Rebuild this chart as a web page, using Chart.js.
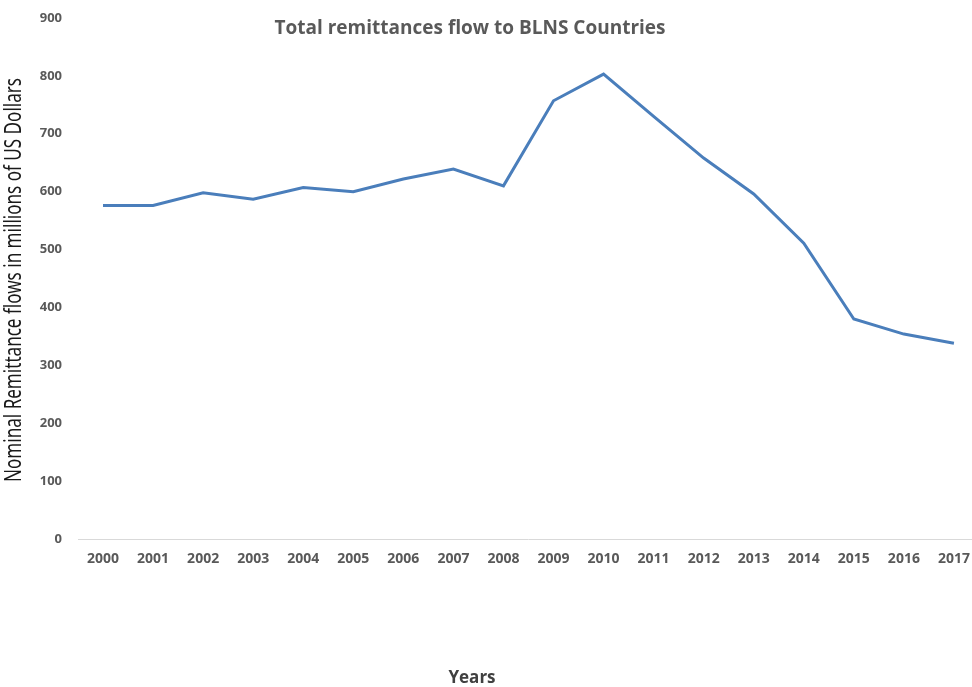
<!DOCTYPE html>
<html>
<head>
<meta charset="utf-8">
<script src="https://cdn.jsdelivr.net/npm/chart.js@4"></script>
<style>
  html, body { margin: 0; padding: 0; background: #fff; overflow: hidden; }
  #wrap { width: 982px; height: 687px; position: relative; }
</style>
</head>
<body>
<div id="wrap"><canvas id="remessasChart"></canvas></div>
<script>
// Dados
const anos = ['2000', '2001', '2002', '2003', '2004', '2005', '2006', '2007', '2008',
              '2009', '2010', '2011', '2012', '2013', '2014', '2015', '2016', '2017'];
const remessas = [576, 576, 598, 587, 607, 600, 622, 639, 610,
                  757, 803, 730, 658, 596, 511, 380, 354, 338];

const tituloGrafico = 'Total remittances flow to BLNS Countries';
const tituloEixoY = 'Nominal Remittance flows in millions of US Dollars';
const tituloEixoX = 'Years';

// Títulos desenhados à mão: o do gráfico fica por cima da área de plotagem,
// o do eixo Y é estreito (tipo Calibri) e o "Years" não fica centrado no eixo
const titulosPlugin = {
    id: 'titulosManuais',
    afterDraw(chart) {
        const ctx = chart.ctx;
        ctx.save();
        ctx.textAlign = 'center';
        ctx.textBaseline = 'middle';

        ctx.font = 'bold 19px "Open Sans"';
        ctx.fillStyle = '#595959';
        ctx.fillText(tituloGrafico, 470, 29);

        ctx.font = 'bold 17px "Open Sans"';
        ctx.fillStyle = '#404040';
        ctx.fillText(tituloEixoX, 472, 678);

        // eixo Y: texto girado e comprimido para caber no mesmo comprimento
        ctx.font = '23px "Noto Sans"';
        ctx.fillStyle = '#1a1a1a';
        const largura = ctx.measureText(tituloEixoY).width;
        ctx.translate(14, 280);
        ctx.rotate(-Math.PI / 2);
        ctx.scale(404 / largura, 1);
        ctx.fillText(tituloEixoY, 0, 0);
        ctx.restore();
    }
};

const ctx = document.getElementById('remessasChart').getContext('2d');

new Chart(ctx, {
    type: 'line',
    data: {
        labels: anos,
        datasets: [{
            label: 'Remittances',
            data: remessas,
            borderColor: '#4a7ebb',
            borderWidth: 3,
            pointRadius: 0,
            tension: 0,
            fill: false
        }]
    },
    options: {
        responsive: true,
        maintainAspectRatio: false,
        animation: false,
        layout: { padding: { top: 18, right: 2, left: 0, bottom: 0 } },
        plugins: {
            legend: { display: false },
            tooltip: { enabled: false }
        },
        scales: {
            x: {
                offset: true,
                grid: { display: false, drawTicks: false },
                border: { display: true, color: '#d9d9d9', width: 1 },
                ticks: {
                    color: '#595959',
                    font: { family: '"Open Sans"', size: 14, weight: 'bold' },
                    padding: 12,
                    maxRotation: 0,
                    autoSkip: false
                },
                afterFit(scale) { scale.height = 148; }
            },
            y: {
                min: 0,
                max: 900,
                grid: { display: false, drawTicks: false },
                border: { display: false },
                ticks: {
                    stepSize: 100,
                    color: '#595959',
                    font: { family: '"Open Sans"', size: 13, weight: 'bold' },
                    padding: 16
                },
                afterFit(scale) {
                    scale.width = 78;
                    scale.paddingTop = 0;
                }
            }
        }
    },
    plugins: [titulosPlugin]
});
</script>
</body>
</html>
